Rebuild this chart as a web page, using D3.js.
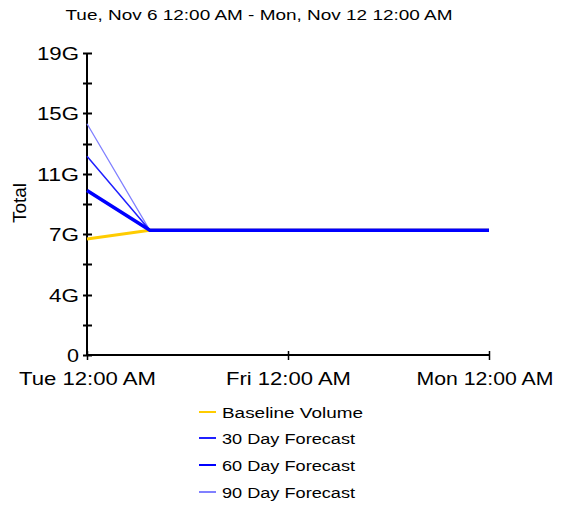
<!DOCTYPE html>
<html><head><meta charset="utf-8">
<script src="https://cdn.jsdelivr.net/npm/d3@7"></script>
<style>body{margin:0;background:#fff}svg{display:block}text{font-family:"Liberation Sans",Arial,sans-serif;fill:#000}</style>
</head><body>
<script>
const title = "Tue, Nov 6 12:00 AM - Mon, Nov 12 12:00 AM";
const yTitle = "Total";
const times = ["2012-11-06T00:00","2012-11-06T22:30","2012-11-08T00:00","2012-11-09T00:00","2012-11-10T00:00","2012-11-11T00:00","2012-11-12T00:00"];
const baseline = [7.3, 7.85, 7.85, 7.85, 7.85, 7.85, 7.85];
const f30 = [12.5, 7.85, 7.85, 7.85, 7.85, 7.85, 7.85];
const f60 = [10.35, 7.85, 7.85, 7.85, 7.85, 7.85, 7.85];
const f90 = [14.55, 7.85, 7.85, 7.85, 7.85, 7.85, 7.85];
const seriesNames = ["Baseline Volume","30 Day Forecast","60 Day Forecast","90 Day Forecast"];
const yTickValues = [0, 3.8, 7.6, 11.4, 15.2, 19];
const yTickLabels = ["0","4G","7G","11G","15G","19G"];
const xTickDates = ["2012-11-06T00:00","2012-11-09T00:00","2012-11-12T00:00"];
const xTickLabels = ["Tue 12:00 AM","Fri 12:00 AM","Mon 12:00 AM"];

const W = 562, H = 506;
const svg = d3.select("body").append("svg").attr("width", W).attr("height", H);
const parse = d3.timeParse("%Y-%m-%dT%H:%M");
const x = d3.scaleTime().domain([parse(times[0]), parse(times[times.length-1])]).range([87, 489]);
const y = d3.scaleLinear().domain([0, 19]).range([355, 53]);

svg.append("text").attr("x", 259).attr("y", 20).attr("text-anchor", "middle")
  .attr("font-size", 15).attr("textLength", 387).attr("lengthAdjust", "spacingAndGlyphs").text(title);

// y axis
const yAxis = svg.append("g");
yAxis.append("line").attr("x1", 87).attr("x2", 87).attr("y1", y(19)).attr("y2", y(0)).attr("stroke", "#000").attr("stroke-width", 2);
const minor = d3.range(0, yTickValues.length - 1).map(i => (yTickValues[i] + yTickValues[i+1]) / 2);
yTickValues.concat(minor).forEach(v => {
  yAxis.append("line").attr("x1", 83).attr("x2", 92).attr("y1", Math.round(y(v)) + 0.5).attr("y2", Math.round(y(v)) + 0.5).attr("stroke", "#000").attr("stroke-width", 2);
});
yTickValues.forEach((v, i) => {
  const lab = yTickLabels[i];
  yAxis.append("text").attr("x", 79).attr("y", y(v) + 7).attr("text-anchor", "end").attr("font-size", 19)
    .attr("textLength", lab.length === 1 ? 12 : (lab.length === 2 ? 30 : 42)).attr("lengthAdjust", "spacingAndGlyphs").text(lab);
});
svg.append("text").attr("transform", "translate(26,203) rotate(-90)").attr("text-anchor", "middle")
  .attr("font-size", 19).text(yTitle);

// x axis
svg.append("line").attr("x1", 87).attr("x2", 489).attr("y1", 355).attr("y2", 355).attr("stroke", "#000").attr("stroke-width", 2);
xTickDates.forEach((d, i) => {
  const px = Math.round(x(parse(d))) + 0.5;
  svg.append("line").attr("x1", px).attr("x2", px).attr("y1", 351).attr("y2", 360).attr("stroke", "#000").attr("stroke-width", 1.5);
  const cx = i === 2 ? 485 : px;
  svg.append("text").attr("x", cx).attr("y", 385).attr("text-anchor", "middle").attr("font-size", 19)
    .attr("textLength", i === 1 ? 125 : 137).attr("lengthAdjust", "spacingAndGlyphs").text(xTickLabels[i]);
});

// lines
const series = [
  {name: seriesNames[0], vals: baseline, color: "#ffcc00", w: 3},
  {name: seriesNames[1], vals: f30, color: "#2020ff", w: 1.5},
  {name: seriesNames[2], vals: f60, color: "#0000ff", w: 3.5},
  {name: seriesNames[3], vals: f90, color: "#8080ff", w: 1.3}
];
const line = d3.line().x(d => x(d.t)).y(d => y(d.v));
[series[0], series[3], series[1], series[2]].forEach(s => {
  const pts = times.map((t, i) => ({t: parse(t), v: s.vals[i]}));
  svg.append("path").attr("d", line(pts)).attr("fill", "none").attr("stroke", s.color).attr("stroke-width", s.w);
});

// legend
const legendRows = [412, 438, 465, 492];
const legendWidths = [141, 133, 133, 133];
series.forEach((s, i) => {
  svg.append("line").attr("x1", 199).attr("x2", 216).attr("y1", legendRows[i]).attr("y2", legendRows[i]).attr("stroke", s.color).attr("stroke-width", 2);
  svg.append("text").attr("x", 222).attr("y", legendRows[i] + 6).attr("font-family", "DejaVu Sans").attr("font-size", 14)
    .attr("textLength", legendWidths[i]).attr("lengthAdjust", "spacingAndGlyphs").text(s.name);
});
</script>
</body></html>
